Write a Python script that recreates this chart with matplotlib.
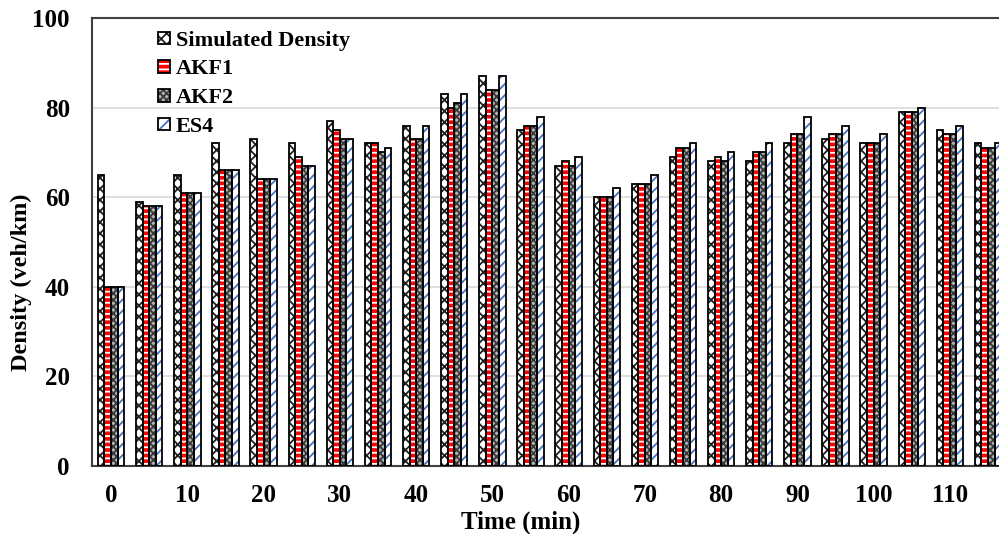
import matplotlib
matplotlib.use("Agg")
import matplotlib.pyplot as plt
import numpy as np
from matplotlib.legend_handler import HandlerTuple

times = list(range(0, 120, 5))
simulated = [65, 59, 65, 72, 73, 72, 77, 72, 76, 83, 87, 75,
             67, 60, 63, 69, 68, 68, 72, 73, 72, 79, 75, 72]
akf1 = [40, 58, 61, 66, 64, 69, 75, 72, 73, 80, 84, 76,
        68, 60, 63, 71, 69, 70, 74, 74, 72, 79, 74, 71]
akf2 = [40, 58, 61, 66, 64, 67, 73, 70, 73, 81, 84, 76,
        67, 60, 63, 71, 68, 70, 74, 74, 72, 79, 74, 71]
es4 = [40, 58, 61, 66, 64, 67, 73, 71, 76, 83, 87, 78,
       69, 62, 65, 72, 70, 72, 78, 76, 74, 80, 76, 72]

series = [
    ("Simulated Density", simulated, "white", "#202020", "xxx"),
    ("AKF1", akf1, "#ff0000", "white", "---"),
    ("AKF2", akf2, "#b4b4b4", "#383838", "xxxxx"),
    ("ES4", es4, "white", "#4472c4", "///"),
]

plt.rcParams["font.family"] = ["Liberation Serif", "DejaVu Serif"]
plt.rcParams["font.weight"] = "bold"
plt.rcParams["hatch.linewidth"] = 1.3

fig = plt.figure(figsize=(9.99, 5.34), dpi=100)
# axes runs past the right edge on purpose: the last group is cut off
ax = fig.add_axes([0.0921, 0.1273, 0.916, 0.839])

x = np.arange(len(times))
w = 0.173
handles = []
for i, (name, vals, face, hcol, hatch) in enumerate(series):
    pos = x + (i - 1.5) * w
    fill = ax.bar(pos, vals, w, color=face, edgecolor=hcol, hatch=hatch,
                  linewidth=0, zorder=2)
    outline = ax.bar(pos, vals, w, facecolor="none", edgecolor="black",
                     linewidth=1.3, zorder=3)
    handles.append((fill[0], outline[0]))

ax.set_xlim(-0.5, len(times) - 0.5)
ax.set_ylim(0, 100)
ax.set_yticks([0, 20, 40, 60, 80, 100])
ax.set_xticks(x[::2])
ax.set_xticklabels([str(t) for t in times[::2]])
ax.tick_params(axis="both", length=0, labelsize=18)
ax.tick_params(axis="x", pad=13)
ax.tick_params(axis="y", pad=16)
ax.grid(axis="y", color="#d9d9d9", linewidth=1.2, zorder=0)
ax.set_axisbelow(True)

for s in ["left", "top", "bottom"]:
    ax.spines[s].set_color("#404040")
    ax.spines[s].set_linewidth(1.5)
ax.spines["right"].set_visible(False)

ax.set_xlabel("Time (min)", fontsize=18, fontweight="bold")
ax.set_ylabel("Density (veh/km)", fontsize=17.5, fontweight="bold")
ax.xaxis.set_label_coords(0.468, -0.1)
ax.yaxis.set_label_coords(-0.0655, 0.41)

ax.legend(handles, [s[0] for s in series],
          handler_map={tuple: HandlerTuple(ndivide=1, pad=0)},
          loc="upper left", bbox_to_anchor=(0.050, 1.016), frameon=False,
          prop={"size": 16, "weight": "bold"}, handlelength=0.55,
          handleheight=0.5, handletextpad=0.25, labelspacing=0.39)

fig.savefig("out.png", dpi=100)
